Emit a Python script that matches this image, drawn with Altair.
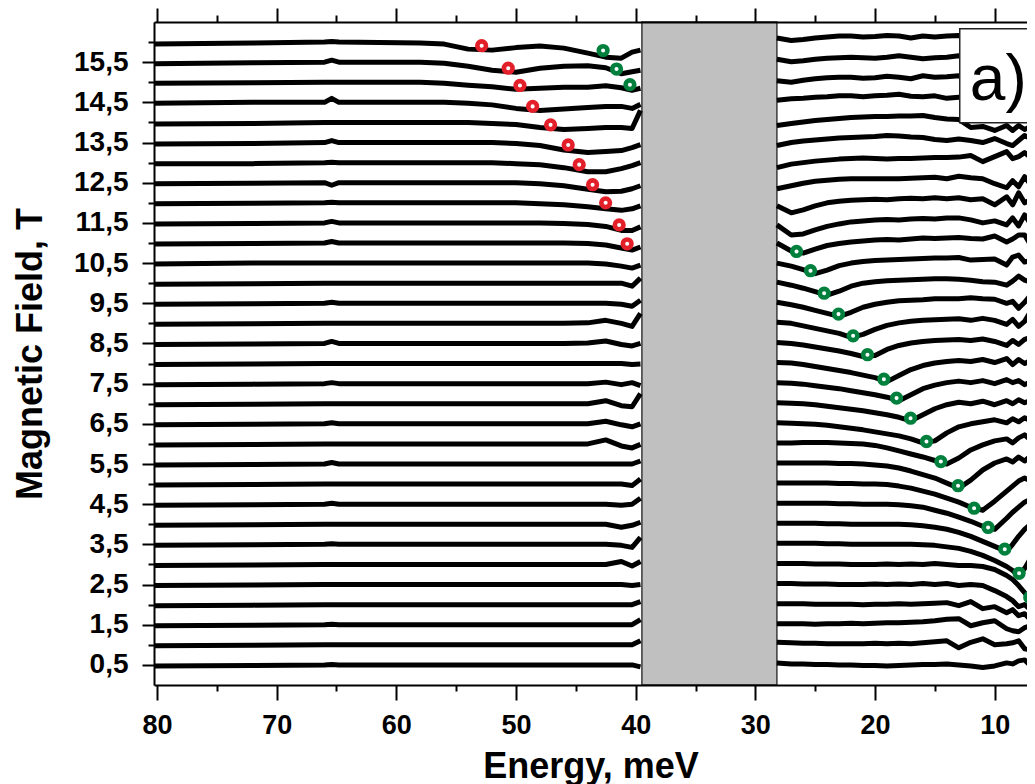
import altair as alt
import pandas as pd

# ---------------- data ----------------
FIELDS = [16.0, 15.5, 15.0, 14.5, 14.0, 13.5, 13.0, 12.5, 12.0, 11.5, 11.0, 10.5,
          10.0, 9.5, 9.0, 8.5, 8.0, 7.5, 7.0, 6.5, 6.0, 5.5, 5.0, 4.5, 4.0, 3.5,
          3.0, 2.5, 2.0, 1.5, 1.0, 0.5]

E_LEFT = [80.3, 72, 66, 65.4, 64.8, 58, 56, 54, 52, 50, 48, 46, 44, 42.5, 41.2, 40.3, 39.6]
E_RIGHT = [28.2, 27, 26, 25, 24, 23, 22, 21, 20, 19, 18, 17, 16, 15, 14, 13, 12, 11,
           10, 9, 8.5, 8, 7.5, 7, 6]

# intensity offsets (a.u.) for each field: first the E_LEFT points, then the E_RIGHT points
B160 = [-2, -1, 0, 0.5, 0, -1, -2, -7, -8, -5.5, -4, -6, -11, -15, -16, -10, -8,
        4, 1.5, 2.5, 4, 5, 6, 6, 5, 5.5, 6.5, 6, 4, 6, 5, 6, 6.5, 6, 5, 6, 5, 6, 5, 6, 5, 5]
B155 = [-1.5, -0.5, 0, 2, 0, 0, -1, -4, -8, -10, -6, -4, -3.5, -5.5, -11.5, -9.5, -8,
        3, 0.5, 1.5, 3, 4, 4.5, 5, 4.5, 4, 5, 6.5, 5, 3.5, 4.5, 5, 6.5, 6, 6, 6, 6, 6, 6, 6, 6, 6]
B150 = [-1, -0.5, 0, 0, 0, 0, -1, -3, -4.5, -7, -6, -5, -5, -3.5, -5.5, -8, -6,
        1.5, 0, 2, 3.5, 4.5, 5, 5, 4, 4.5, 6, 5, 3.5, 6.5, 5, 5.5, 6.5, 6, 6, 6, 6, 6, 6, 6, 6, 6]
B145 = [-1, 0, 0, 4, 0, 0, 0, -1, -2.5, -6, -8, -6.5, -5, -4, -4, -6, -2,
        2, 3.5, 4, 5, 5.5, 6.5, 6.5, 5.5, 6.5, 7, 8, 6, 5.5, 6.5, 4, 5, 5, 5, 5, 5, 5, 5, 5, 5, 5]
B140 = [-1.5, -1, 0, 0, 0, 0, 0, 0, -1, -2, -5, -7, -6, -5, -5, -6, 12,
        -3, -1, 0.5, 2, 3, 4, 5, 5.5, 6, 6, 6.5, 6.5, 7, 5, 3.5, 3, -5, -4, -8, -3, -8, -3, -7, -4, -6]
B135 = [-1.5, -1, 0, 2, 0, 0, 0, 0, 0, -1, -3, -7.5, -10, -9, -8, -5, -2,
        -3, 0, 1.5, 2.5, 3.5, 4.5, 5, 5.5, 6, 7, 6.5, 5.5, 5, 3, 2, 3.5, 2, 0, 4, -1, -3, 2, 7, 4, 3]
B130 = [-1, -1, 0, 0.5, 0, 0, 0, 0, 0, -1, -2, -5, -9, -9, -6, -3, 0,
        -5, -1.5, 0, 1.5, 2.5, 3.5, 4, 4.5, 4, 3.5, 4, 4, 4.5, 5, 5, 5.5, 7, 1, 6, 11, 4, 6, 10, 5, 4]
B125 = [-1, -0.5, 0, -2.5, 0, 0, 0, 0, 0, 0, -1, -3, -6.5, -9, -8.5, -6, -3,
        -6, -3, -0.5, 1.5, 2.5, 3.5, 4, 4, 4, 4, 4, 4.5, 5, 5.5, 4, 6.5, 5, 4, -1, -5, 2, -4, 6, -2, 2]
B120 = [-1, -0.5, 0, 0.5, 0, 0, 0, 0, 0, 0, -1, -2, -4, -6, -7.5, -6, -3,
        -3, -10, -7, -3, 0, 1.5, 2.5, 3, 3.5, 3, 4, 4.5, 4, 5, 4, 5, 3, 4, -2, 6, -2, 10, 0, 3, 2]
B115 = [-1, -0.5, 0, 1.5, 0, 0, 0, 0, 0, 0, 0, -0.5, -1.5, -3.5, -7.5, -7.5, -4,
        -2, -12, -11, -7, -3.5, -1, 1, 2, 3, 3.5, 3, 4, 4.5, 4, 5, 5, 3, 0, 2, -2, 5, -3, 8, -1, 2]
B110 = [-1, -0.5, 0, 1.5, 0, 0, 0, 0, 0, 0, 0, 0, -0.5, -2, -5, -7, -4,
        0, -8, -10, -6, -2.5, -0.5, 1, 2, 3, 3.5, 3, 4, 5, 4.5, 5, 5.5, 4.5, 4, 7, 1, 4, 8, 8, -2, 3]
B105 = [-1, 0, 0, 0, 0, 0, 0, 0, 0, 0, 0, 0, 0, -1, -3, -5, -2,
        0, -3, -6.5, -10.5, -7, -2.5, 0, 1.5, 2.5, 3, 3.5, 4, 4.5, 5, 5, 5.5, 3, 3.5, 4, -2, 6, 8, 1, 3, 7]
B100 = [-1, -0.5, 0, 0, 0, 0, 0, 0, 0, 0, 0, 0, 0, 0, 0, -3, 5,
        1, -2, -5, -8.5, -12, -8, -3, 0, 1.5, 2.5, 3, 3.5, 4, 4.5, 4.5, 4, 3, 1.5, 1, -2, 2, 7, 3, 1, 4]
B095 = [-1, -0.5, 0, 1, 0, 0, 0, 0, 0, 0, 0, 0, 0, 0, -1, -3, 3,
        1, -1.5, -4, -7, -10, -13, -9, -4, -1, 1, 2.5, 3, 3.5, 4.5, 4.5, 4.5, 5.5, 4.5, 4, 0, 2, -5, 1, 8, 10]
B090 = [-1, -0.5, 0, 0, 0, 0, 0, 0, 0, 0, 0, 0, 0.5, 3, 0, -3, 10,
        1, 0, -2.5, -5, -7.5, -10, -14, -11, -6, -2, 0.5, 2, 3, 3.5, 4, 4.5, 3, 5, 3, -1, 4, -3, 2, 12, 14]
B085 = [-1, -0.5, 0, 2, 0, 0, 0, 0, 0, 0, 0, 0, 0.5, 2.5, -1, -2.5, 0,
        1, 0, -1.5, -3.5, -5.5, -7.5, -10, -13, -12, -6, -2, 0.5, 2, 3, 3.5, 4, 3, 4.5, 2, -2, 3, -1, 4, 6, 4]
B080 = [-1, -0.5, 0, 0, 0, 0, 0, 0, 0, 0, 0, 0, 0, 0, 0, -1, -0.5,
        1, 0.5, -1, -3, -5, -7, -9, -11.5, -14, -18, -12, -6, -2, 0.5, 2, 3, 2, 4, 1, 5, -1, 4, 0, 3, 2]
B075 = [-1, -0.5, 0, 1, 0, 0, 0, 0, 0, 0, 0, 0, 0, 1.5, -1, 1, -2,
        1, 0.5, -0.5, -2, -3.5, -5, -7, -9, -11, -13.5, -17, -11, -5, -1.5, 1, 2.5, 1, 3, 0, 4, 1, 3, -1, 2, 1]
B070 = [-1, -0.5, 0, 0, 0, 0, 0, 0, 0, 0, 0, 0, 0, 3, -2, -3, 10,
        1, 0.5, 0, -1, -2.5, -4, -5.5, -7, -9, -11, -13.5, -17, -11, -5, -1, 1.5, 0, 2.5, -1, 3, 0, 4, 1, 3, 2]
B065 = [-1, -0.5, 0, 1, 0, 0, 0, 0, 0, 0, 0, 0, 0, 2.5, -1, -3, 0,
        1, 0.5, 0, -0.5, -1.5, -3, -4.5, -6, -8, -10, -12, -15, -19, -17, -9, -3, 0, 2, 4, 1, 5, 2, 6, 3, 4]
B060 = [-1, -0.5, 0, 0, 0, 0, 0, 0, 0, 0, 0, 0, 0, 4, -2, -4, -0.5,
        1, 1, 1.5, 1.5, 1.5, 1, 0.5, 0, -1.5, -4, -7, -10, -13, -16.5, -20, -14, -6, -1, 3, 5, 1, 6, 9, 4, 7]
B055 = [-1, -0.5, 0, 1.5, 0, 0, 0, 0, 0, 0, 0, 0, 0, 0, 0, 0, 3,
        1, 1, 1, 1, 1, 0.5, 0.5, 0, -1, -2, -4, -7, -10.5, -14, -19, -24, -16, -6, 1, 5, 2, 7, 3, 8, 5]
B050 = [-1, -0.5, 0, 0, 0, 0, 0, 0, 0, 0, 0, 0, 0, 0, 0, -1.5, 5,
        1, 1, 1, 1, 1, 0.5, 0.5, 0, 0, -0.5, -2, -4, -7, -10, -14, -18, -23, -26, -17, -7, -2, 3, 6, 3, 7]
B045 = [-1, -0.5, 0, 1, 0, 0, 0, 0, 0, 0, 0, 0, 0, 0, -1, 0, 6,
        1, 1, 1, 1, 1, 0.5, 0.5, 0, 0, 0, -0.5, -1.5, -3, -6, -9, -13, -17, -22, -25, -14, -8, -3, 2, 5, 3]
B040 = [-1, -0.5, 0, 0, 0, 0, 0, 0, 0, 0, 0, 0, 0, 0, -3, -1, 2,
        1, 1, 1, 1, 0.5, 0.5, 0, 0, 0, 0, 0, -0.5, -1.5, -3, -5, -8, -12, -17, -22, -27, -20, -12, -5, 0, 3]
B035 = [-1, -0.5, 0, 0.5, 0, 0, 0, 0, 0, 0, 0, 0, 0, 0, -1, -3, 7,
        1, 1, 1, 1, 0.5, 0.5, 0, 0, 0, 0, 0, 0, -0.5, -1, -2.5, -4, -7, -11, -16, -22, -26, -31, -24, -14, -4]
B030 = [-1, -0.5, 0, 0, 0, 0, 0, 0, 0, 0, 0, 0, 0, 0, 3, -1.5, 3,
        1, 1, 1, 0.5, 0.5, 0.5, 0, 0, 0, 0.5, 0, 0.5, 0, 1, 0, -1, -1, -2, -5, -11, -15, -21, -28, -35, -30]
B025 = [-1, -0.5, 0, 0, 0, 0, 0, 0, 0, 0, 0, 0, 0, 0, 0, -1, 0,
        1, 1, 0.5, 0.5, 0.5, 0, 0, 0, 0.5, 0, 0.5, 0, 1, 0, 1, -1, 0, -1, -6, -12, -16, -22, -20, -25, -32]
B020 = [-1, -0.5, 0, 0, 0, 0, 0, 0, 0, 0, 0, 0, 0, 0, 0, 0, 3,
        1, 1, 1, 0.5, 0.5, 0.5, 0.5, 0, 0.5, 0.5, 1, 0.5, 1, 1.5, 2, -1, 3, -4, -2, -8, -5, -11, -9, -15, -18]
B015 = [-1, -0.5, 0, 0.5, 0, 0, 0, 0, 0, 0, 0, 0, 0, 0, 0, 0, 5,
        1, 1, 1, 0.5, 1, 1, 1.5, 1, 1.5, 2, 2, 2.5, 3, 4, 5.5, 6, -1, 2, 4, -4, -6, -7, -3, -1, -3]
B010 = [-1, -0.5, 0, 0, 0, 0, 0, 0, 0, 0, 0, 0, 0, 0, 0, 0, 4,
        2.5, 2, 1.5, 1.5, 1, 1, 1, 1, 1.5, 1, 1.5, 1, 2, 3, 4, -3, 2.5, 6, 0, 1, 2, 4, -4, -5, 2]
B005 = [-1, -0.5, 0, 0.5, 0, 0, 0, 0, 0, 0, 0, 0, 0, 0, 0, 0, -2,
        2, 1, 1, 0.5, 0.5, 0, 0, -0.5, -0.5, -1, -0.5, 0, 0.5, 0.5, 1, 0, -1, -2.5, -1, 2, 1, 4, 5, -1, 2]

SPECTRA = [B160, B155, B150, B145, B140, B135, B130, B125, B120, B115, B110, B105,
           B100, B095, B090, B085, B080, B075, B070, B065, B060, B055, B050, B045,
           B040, B035, B030, B025, B020, B015, B010, B005]
OFFSET_SCALE = 0.025  # T per intensity unit (waterfall offset)

# minima markers
RED_E = [52.87, 50.65, 49.67, 48.61, 47.11, 45.64, 44.72, 43.60, 42.51, 41.38, 40.71]
RED_B = [15.91, 15.35, 14.92, 14.40, 13.94, 13.44, 12.95, 12.45, 12.00, 11.45, 10.98]
GREEN_E = [42.72, 41.60, 40.48, 26.56, 25.39, 24.25, 23.05, 21.83, 20.63, 19.26,
           18.20, 17.03, 15.70, 14.50, 13.06, 11.72, 10.55, 9.16, 7.96, 7.07]
GREEN_B = [15.79, 15.33, 14.94, 10.79, 10.31, 9.75, 9.23, 8.69, 8.22, 7.61,
           7.14, 6.64, 6.06, 5.56, 4.96, 4.40, 3.92, 3.38, 2.78, 2.18]

GAP_E = [39.48, 28.2]
GAP_B = [0, 16.5]
LABEL_BOX_E = [12.92, 6.0]
LABEL_BOX_B = [13.99, 16.33]
LABEL_POS = [12.08, 14.56]
LABEL_TEXT = "a)"

X_DOMAIN = [7.3, 80.25]
Y_DOMAIN = [0, 16.5]
X_MAJOR = [80, 70, 60, 50, 40, 30, 20, 10]
X_MINOR = [75, 65, 55, 45, 35, 25, 15]
Y_MAJOR = [0.5, 1.5, 2.5, 3.5, 4.5, 5.5, 6.5, 7.5, 8.5, 9.5, 10.5, 11.5, 12.5, 13.5, 14.5, 15.5]
Y_MINOR = list(range(1, 17))

# ---------------- tables ----------------
rows = []
nl = len(E_LEFT)
for b, vals in zip(FIELDS, SPECTRA):
    for e, v in zip(E_LEFT, vals[:nl]):
        rows.append({"E": e, "y": b + OFFSET_SCALE * v, "seg": f"{b}-L"})
    for e, v in zip(E_RIGHT, vals[nl:]):
        rows.append({"E": e, "y": b + OFFSET_SCALE * v, "seg": f"{b}-R"})
lines_df = pd.DataFrame(rows)

circ_df = pd.DataFrame(
    [{"E": e, "B": b, "kind": "red"} for e, b in zip(RED_E, RED_B)]
    + [{"E": e, "B": b, "kind": "green"} for e, b in zip(GREEN_E, GREEN_B)]
)
gap_df = pd.DataFrame([{"e1": GAP_E[0], "e2": GAP_E[1], "b1": GAP_B[0], "b2": GAP_B[1]}])
box_df = pd.DataFrame([{"e1": LABEL_BOX_E[0], "e2": LABEL_BOX_E[1],
                        "b1": LABEL_BOX_B[0], "b2": LABEL_BOX_B[1]}])
label_df = pd.DataFrame([{"E": LABEL_POS[0], "B": LABEL_POS[1], "t": LABEL_TEXT}])

# ---------------- chart ----------------
FONT = "Liberation Sans"
XS = alt.Scale(domain=X_DOMAIN, reverse=True, nice=False, zero=False)
YS = alt.Scale(domain=Y_DOMAIN, nice=False, zero=False)


def make_axis(orient, values, size, labels=False, title=None, fmt=None, label_expr=None,
              label_pad=12, title_pad=10, domain=False, label_size=27):
    kw = dict(orient=orient, values=values, tickSize=size, ticks=True, domain=domain,
              grid=False, tickColor="black", tickWidth=2, labels=labels, zindex=1)
    if domain:
        kw.update(domainColor="black", domainWidth=2)
    if labels:
        kw.update(labelFont=FONT, labelFontSize=label_size, labelFontWeight="bold",
                  labelColor="black", labelPadding=label_pad, labelFlush=False,
                  labelOverlap=False)
        if fmt:
            kw["format"] = fmt
        if label_expr:
            kw["labelExpr"] = label_expr
    if title:
        kw.update(title=title, titleFont=FONT, titleFontSize=36, titleFontWeight="bold",
                  titleColor="black", titlePadding=title_pad)
    else:
        kw["title"] = None
    return alt.Axis(**kw)


gap = alt.Chart(gap_df).mark_rect(fill="#c0c0c0", stroke="#3a3a3a", strokeWidth=1.5).encode(
    x=alt.X("e1:Q", scale=XS, axis=make_axis("top", X_MAJOR, 14, domain=True)),
    x2="e2:Q",
    y=alt.Y("b1:Q", scale=YS, axis=None),
    y2="b2:Q",
)

lines = alt.Chart(lines_df).mark_line(color="black", strokeWidth=5, clip=True,
                                      strokeJoin="round").encode(
    x=alt.X("E:Q", scale=XS,
            axis=make_axis("bottom", X_MAJOR, 15, labels=True, title="Energy, meV",
                           fmt="d", label_pad=12, title_pad=11, domain=True)),
    y=alt.Y("y:Q", scale=YS,
            axis=make_axis("left", Y_MAJOR, 12, labels=True, title="Magnetic Field, T",
                           label_expr="replace(format(datum.value, '.1f'), '.', ',')",
                           label_pad=14, title_pad=24, domain=True, label_size=28)),
    detail="seg:N",
)

circles = alt.Chart(circ_df).mark_point(shape="circle", filled=False, fill="white",
                                        fillOpacity=1, opacity=1, size=75,
                                        strokeWidth=4.6, clip=True).encode(
    x=alt.X("E:Q", scale=XS, axis=make_axis("bottom", X_MINOR, 6)),
    y=alt.Y("B:Q", scale=YS, axis=make_axis("left", Y_MINOR, 6)),
    color=alt.Color("kind:N", scale=alt.Scale(domain=["red", "green"],
                                              range=["#e3202a", "#00803c"]), legend=None),
)

box = alt.Chart(box_df).mark_rect(fill="white", stroke="#222222", strokeWidth=1.5,
                                  clip=True).encode(
    x=alt.X("e1:Q", scale=XS, axis=make_axis("top", X_MINOR, 7)),
    x2="e2:Q",
    y=alt.Y("b1:Q", scale=YS, axis=None),
    y2="b2:Q",
)

label = alt.Chart(label_df).mark_text(align="left", baseline="alphabetic", font=FONT,
                                      fontSize=64, color="black", clip=True).encode(
    x=alt.X("E:Q", scale=XS, axis=None),
    y=alt.Y("B:Q", scale=YS, axis=None),
    text="t:N",
)

chart = (
    alt.layer(gap, lines, circles, box, label)
    .resolve_axis(x="independent", y="independent")
    .properties(width=873, height=663,
                autosize=alt.AutoSizeParams(type="none"),
                padding={"left": 146, "top": 14, "right": 0, "bottom": 99})
    .configure_view(stroke=None)
)

chart.save("out.html", embed_options={"renderer": "svg", "actions": False})
